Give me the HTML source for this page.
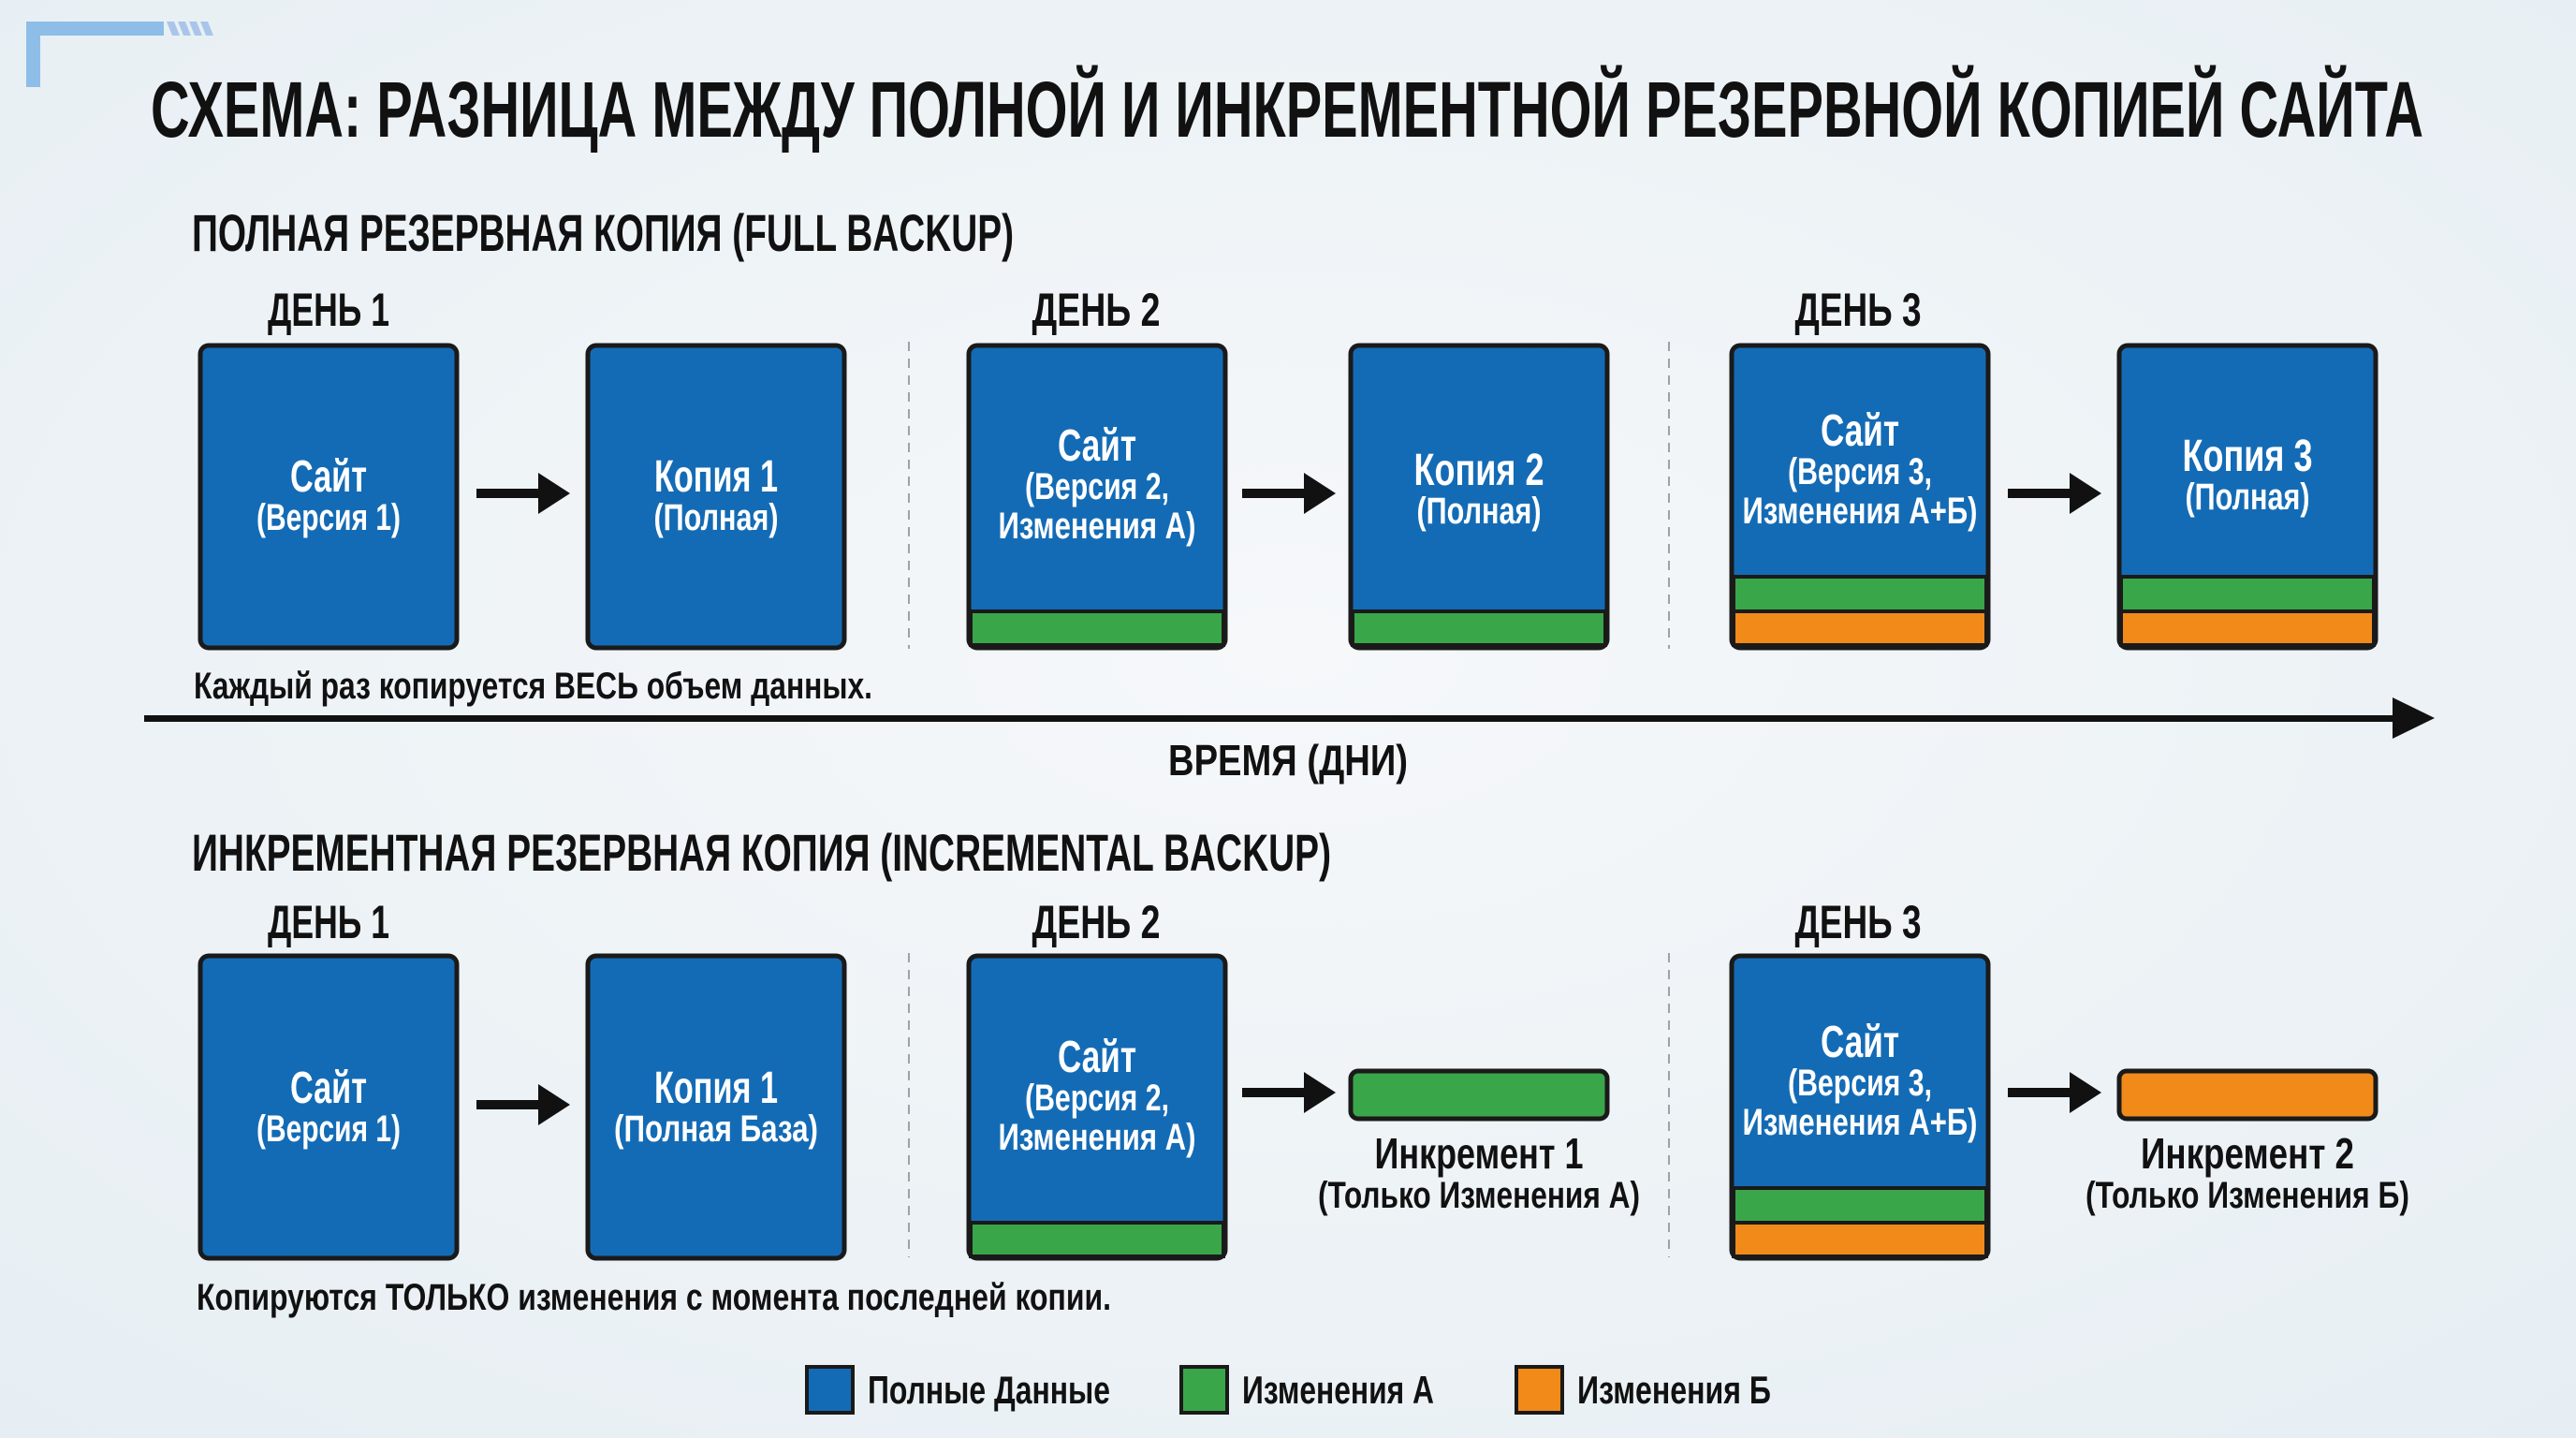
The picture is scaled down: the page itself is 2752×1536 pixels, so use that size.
<!DOCTYPE html>
<html><head><meta charset="utf-8"><style>
html,body{margin:0;padding:0;background:#eef3f6}
svg{display:block}
text{font-family:"Liberation Sans Narrow","Liberation Sans",sans-serif;font-weight:bold}
</style></head><body>
<svg width="2752" height="1536" viewBox="0 0 2752 1536" xmlns="http://www.w3.org/2000/svg">
<defs>
<radialGradient id="bg" cx="50%" cy="45%" r="75%">
<stop offset="0" stop-color="#f6f8fa"/><stop offset="1" stop-color="#e6eef3"/>
</radialGradient>
</defs>
<rect width="2752" height="1536" fill="url(#bg)"/>
<rect x="28" y="23" width="147" height="15" fill="#8ebde8"/>
<rect x="28" y="23" width="15" height="70" fill="#8ebde8"/>
<g fill="#a9c6ea"><polygon points="178,23 186,23 192,38 184,38"/><polygon points="190,23 198,23 204,38 196,38"/><polygon points="202,23 210,23 216,38 208,38"/><polygon points="214,23 222,23 228,38 220,38"/></g>
<text x="161" y="146" font-size="84" fill="#111" textLength="2428" lengthAdjust="spacingAndGlyphs">СХЕМА: РАЗНИЦА МЕЖДУ ПОЛНОЙ И ИНКРЕМЕНТНОЙ РЕЗЕРВНОЙ КОПИЕЙ САЙТА</text>
<text x="205" y="268" font-size="56" fill="#111" textLength="878" lengthAdjust="spacingAndGlyphs">ПОЛНАЯ РЕЗЕРВНАЯ КОПИЯ (FULL BACKUP)</text>
<g font-size="50" fill="#111" text-anchor="middle" lengthAdjust="spacingAndGlyphs">
<text x="351" y="348" textLength="130" lengthAdjust="spacingAndGlyphs">ДЕНЬ 1</text><text x="1171" y="348" textLength="137" lengthAdjust="spacingAndGlyphs">ДЕНЬ 2</text><text x="1985" y="348" textLength="135" lengthAdjust="spacingAndGlyphs">ДЕНЬ 3</text>
<text x="351" y="1002" textLength="130" lengthAdjust="spacingAndGlyphs">ДЕНЬ 1</text><text x="1171" y="1002" textLength="137" lengthAdjust="spacingAndGlyphs">ДЕНЬ 2</text><text x="1985" y="1002" textLength="135" lengthAdjust="spacingAndGlyphs">ДЕНЬ 3</text>
</g>
<g stroke="#9aa3ab" stroke-width="2" stroke-dasharray="10,8">
<line x1="971" y1="365" x2="971" y2="693"/><line x1="1783" y1="365" x2="1783" y2="693"/>
<line x1="971" y1="1018" x2="971" y2="1343"/><line x1="1783" y1="1018" x2="1783" y2="1343"/>
</g>
<g stroke="#1a1a1a" stroke-width="5">
<rect x="214" y="369" width="274" height="323" rx="9" fill="#146bb5"/>
<rect x="628" y="369" width="274" height="323" rx="9" fill="#146bb5"/>
<rect x="1035" y="369" width="274" height="323" rx="9" fill="#146bb5"/>
<rect x="1443" y="369" width="274" height="323" rx="9" fill="#146bb5"/>
<rect x="1850" y="369" width="274" height="323" rx="9" fill="#146bb5"/>
<rect x="2264" y="369" width="274" height="323" rx="9" fill="#146bb5"/>
</g>
<g stroke="#1a1a1a" stroke-width="4">
<rect x="1037" y="653" width="270" height="36" fill="#3aa64a"/>
<rect x="1445" y="653" width="270" height="36" fill="#3aa64a"/>
<rect x="1852" y="616" width="270" height="37" fill="#3aa64a"/>
<rect x="1852" y="653" width="270" height="36" fill="#f28a1a"/>
<rect x="2266" y="616" width="270" height="37" fill="#3aa64a"/>
<rect x="2266" y="653" width="270" height="36" fill="#f28a1a"/>
</g>
<g fill="#fff" text-anchor="middle">
<text x="351" y="525" font-size="48" textLength="82" lengthAdjust="spacingAndGlyphs">Сайт</text><text x="351" y="566" font-size="40" font-weight="normal" textLength="154" lengthAdjust="spacingAndGlyphs">(Версия 1)</text>
<text x="765" y="525" font-size="48" textLength="132" lengthAdjust="spacingAndGlyphs">Копия 1</text><text x="765" y="566" font-size="40" font-weight="normal" textLength="133" lengthAdjust="spacingAndGlyphs">(Полная)</text>
<text x="1172" y="492" font-size="48" textLength="84" lengthAdjust="spacingAndGlyphs">Сайт</text><text x="1172" y="533" font-size="40" font-weight="normal" textLength="154" lengthAdjust="spacingAndGlyphs">(Версия 2,</text><text x="1172" y="575" font-size="40" font-weight="normal" textLength="211" lengthAdjust="spacingAndGlyphs">Изменения А)</text>
<text x="1580" y="518" font-size="48" textLength="139" lengthAdjust="spacingAndGlyphs">Копия 2</text><text x="1580" y="559" font-size="40" font-weight="normal" textLength="133" lengthAdjust="spacingAndGlyphs">(Полная)</text>
<text x="1987" y="476" font-size="48" textLength="84" lengthAdjust="spacingAndGlyphs">Сайт</text><text x="1987" y="517" font-size="40" font-weight="normal" textLength="154" lengthAdjust="spacingAndGlyphs">(Версия 3,</text><text x="1987" y="559" font-size="40" font-weight="normal" textLength="251" lengthAdjust="spacingAndGlyphs">Изменения А+Б)</text>
<text x="2401" y="503" font-size="48" textLength="139" lengthAdjust="spacingAndGlyphs">Копия 3</text><text x="2401" y="544" font-size="40" font-weight="normal" textLength="133" lengthAdjust="spacingAndGlyphs">(Полная)</text>
</g>
<g fill="#111">
<rect x="509" y="522" width="70" height="10"/><polygon points="575,505 609,527 575,549"/>
<rect x="1327" y="522" width="70" height="10"/><polygon points="1393,505 1427,527 1393,549"/>
<rect x="2145" y="522" width="70" height="10"/><polygon points="2211,505 2245,527 2211,549"/>
<rect x="509" y="1175" width="70" height="10"/><polygon points="575,1158 609,1180 575,1202"/>
<rect x="1327" y="1162" width="70" height="10"/><polygon points="1393,1145 1427,1167 1393,1189"/>
<rect x="2145" y="1162" width="70" height="10"/><polygon points="2211,1145 2245,1167 2211,1189"/>
</g>
<text x="207" y="746" font-size="40" font-weight="normal" fill="#111" textLength="725" lengthAdjust="spacingAndGlyphs">Каждый раз копируется ВЕСЬ объем данных.</text>
<rect x="154" y="764" width="2410" height="7" fill="#111"/>
<polygon points="2556,745 2601,767 2556,789" fill="#111"/>
<text x="1376" y="828" font-size="46" fill="#111" text-anchor="middle" textLength="256" lengthAdjust="spacingAndGlyphs">ВРЕМЯ (ДНИ)</text>
<text x="205" y="930" font-size="56" fill="#111" textLength="1217" lengthAdjust="spacingAndGlyphs">ИНКРЕМЕНТНАЯ РЕЗЕРВНАЯ КОПИЯ (INCREMENTAL BACKUP)</text>
<g stroke="#1a1a1a" stroke-width="5">
<rect x="214" y="1021" width="274" height="323" rx="9" fill="#146bb5"/>
<rect x="628" y="1021" width="274" height="323" rx="9" fill="#146bb5"/>
<rect x="1035" y="1021" width="274" height="323" rx="9" fill="#146bb5"/>
<rect x="1850" y="1021" width="274" height="323" rx="9" fill="#146bb5"/>
<rect x="1443" y="1144" width="274" height="51" rx="8" fill="#3aa64a"/>
<rect x="2264" y="1144" width="274" height="51" rx="8" fill="#f28a1a"/>
</g>
<g stroke="#1a1a1a" stroke-width="4">
<rect x="1037" y="1306" width="270" height="36" fill="#3aa64a"/>
<rect x="1852" y="1269" width="270" height="37" fill="#3aa64a"/>
<rect x="1852" y="1306" width="270" height="36" fill="#f28a1a"/>
</g>
<g fill="#fff" text-anchor="middle">
<text x="351" y="1178" font-size="48" textLength="82" lengthAdjust="spacingAndGlyphs">Сайт</text><text x="351" y="1219" font-size="40" font-weight="normal" textLength="154" lengthAdjust="spacingAndGlyphs">(Версия 1)</text>
<text x="765" y="1178" font-size="48" textLength="132" lengthAdjust="spacingAndGlyphs">Копия 1</text><text x="765" y="1219" font-size="40" font-weight="normal" textLength="218" lengthAdjust="spacingAndGlyphs">(Полная База)</text>
<text x="1172" y="1145" font-size="48" textLength="84" lengthAdjust="spacingAndGlyphs">Сайт</text><text x="1172" y="1186" font-size="40" font-weight="normal" textLength="154" lengthAdjust="spacingAndGlyphs">(Версия 2,</text><text x="1172" y="1228" font-size="40" font-weight="normal" textLength="211" lengthAdjust="spacingAndGlyphs">Изменения А)</text>
<text x="1987" y="1129" font-size="48" textLength="84" lengthAdjust="spacingAndGlyphs">Сайт</text><text x="1987" y="1170" font-size="40" font-weight="normal" textLength="154" lengthAdjust="spacingAndGlyphs">(Версия 3,</text><text x="1987" y="1212" font-size="40" font-weight="normal" textLength="251" lengthAdjust="spacingAndGlyphs">Изменения А+Б)</text>
</g>
<g fill="#111" text-anchor="middle">
<text x="1580" y="1248" font-size="46" textLength="223" lengthAdjust="spacingAndGlyphs">Инкремент 1</text><text x="1580" y="1290" font-size="40" font-weight="normal" textLength="344" lengthAdjust="spacingAndGlyphs">(Только Изменения А)</text>
<text x="2401" y="1248" font-size="46" textLength="228" lengthAdjust="spacingAndGlyphs">Инкремент 2</text><text x="2401" y="1290" font-size="40" font-weight="normal" textLength="346" lengthAdjust="spacingAndGlyphs">(Только Изменения Б)</text>
</g>
<text x="210" y="1399" font-size="40" font-weight="normal" fill="#111" textLength="977" lengthAdjust="spacingAndGlyphs">Копируются ТОЛЬКО изменения с момента последней копии.</text>
<g stroke="#1a1a1a" stroke-width="4">
<rect x="862" y="1460" width="49" height="49" fill="#146bb5"/>
<rect x="1262" y="1460" width="49" height="49" fill="#3aa64a"/>
<rect x="1620" y="1460" width="49" height="49" fill="#f28a1a"/>
</g>
<g fill="#111" font-size="42" font-weight="normal">
<text x="927" y="1499" textLength="259" lengthAdjust="spacingAndGlyphs">Полные Данные</text>
<text x="1327" y="1499" textLength="205" lengthAdjust="spacingAndGlyphs">Изменения А</text>
<text x="1685" y="1499" textLength="207" lengthAdjust="spacingAndGlyphs">Изменения Б</text>
</g>
</svg>
</body></html>
